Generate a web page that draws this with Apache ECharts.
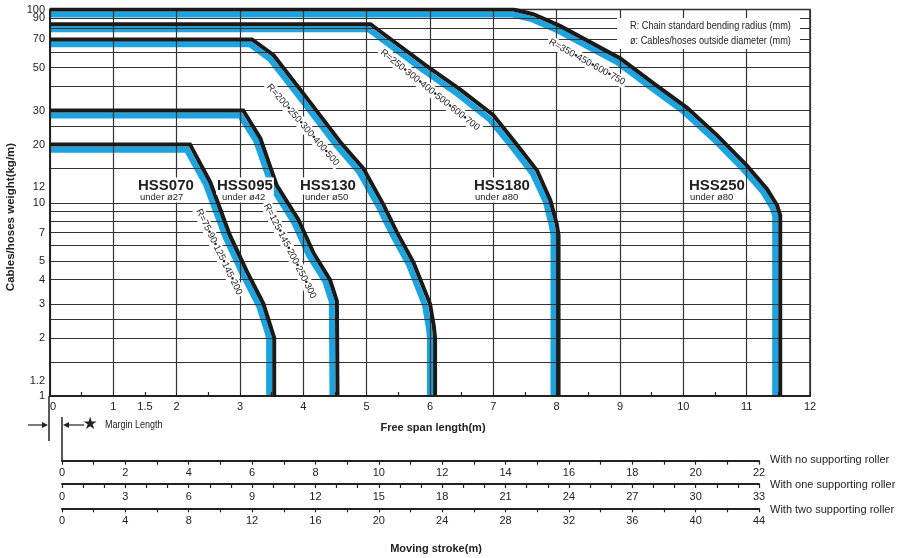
<!DOCTYPE html>
<html>
<head>
<meta charset="utf-8">
<title>HSS free span chart</title>
<script src="https://cdn.jsdelivr.net/npm/echarts@6/dist/echarts.min.js"></script>
<style>
  html, body { margin: 0; padding: 0; background: #fff; }
  #chart { width: 900px; height: 558px; }
</style>
</head>
<body>
<div id="chart"></div>
<script>
  var FONT = "'Liberation Sans', Arial, Helvetica, sans-serif";
  var INK = '#222';
  var BLUE = '#1ba4df';

  // [free span (m), cables/hoses weight (kg/m)] - black outline of each chain
  var hss070 = [[0, 20], [2.21, 20], [2.53, 12.8], [2.84, 6.8], [3.11, 4.4], [3.37, 3.0], [3.50, 2.2], [3.54, 2], [3.54, 1]];
  var hss095 = [[0, 30], [3.05, 30], [3.32, 21.6], [3.58, 12.3], [3.92, 8.2], [4.16, 5.5], [4.42, 4.0], [4.53, 3.1], [4.54, 1]];
  var hss130 = [[0, 70], [3.19, 70], [3.53, 58], [4.05, 35], [4.58, 20.7], [4.95, 15], [5.27, 9.7], [5.48, 7.0], [5.74, 4.9], [6.0, 3.0], [6.06, 2.3], [6.08, 2], [6.08, 1]];
  var hss180 = [[0, 84], [5.06, 84], [5.95, 51], [6.48, 38.5], [7.0, 28.4], [7.32, 21], [7.69, 14.7], [7.90, 10.3], [8.0, 7.8], [8.03, 6.8], [8.03, 1]];
  var hss250 = [[0, 100], [7.32, 100], [7.63, 94.5], [8.06, 82], [9.0, 56], [9.53, 41.5], [10.06, 31], [10.53, 22.4], [11.0, 15.6], [11.32, 11.8], [11.48, 9.7], [11.53, 8.6], [11.53, 1]];

  var hss070Blue = [[0, 18.8], [2.16, 18.8], [2.46, 12.5], [2.77, 6.66], [3.04, 4.29], [3.30, 2.93], [3.43, 2.16], [3.46, 1.98], [3.46, 1]];
  var hss095Blue = [[0, 28.3], [3.0, 28.3], [3.25, 21.1], [3.51, 12.0], [3.85, 7.97], [4.09, 5.35], [4.35, 3.9], [4.45, 3.07], [4.46, 1]];
  var hss130Blue = [[0, 66], [3.16, 66], [3.47, 55.6], [3.99, 33.7], [4.52, 19.9], [4.88, 14.5], [5.20, 9.44], [5.41, 6.81], [5.67, 4.77], [5.92, 2.95], [5.98, 2.28], [6.0, 1.99], [6.0, 1]];
  var hss180Blue = [[0, 79.1], [5.03, 79.1], [5.90, 48.5], [6.43, 36.7], [6.94, 27.1], [7.26, 20.2], [7.62, 14.2], [7.83, 10.1], [7.92, 7.7], [7.95, 6.77], [7.95, 1]];
  var hss250Blue = [[0, 94.2], [7.31, 94.2], [7.60, 89.3], [8.03, 77.6], [8.96, 53.3], [9.48, 39.7], [10.01, 29.6], [10.47, 21.5], [10.94, 15.0], [11.26, 11.4], [11.41, 9.43], [11.45, 8.54], [11.45, 1]];

  var chainNames = ['HSS070', 'HSS095', 'HSS130', 'HSS180', 'HSS250'];
  var chainUnder = ['under ø27', 'under ø42', 'under ø50', 'under ø80', 'under ø80'];
  var bendRadii = ['R=75•90•125•145•200', 'R=125•145•200•250•300', 'R=200•250•300•400•500', 'R=250•300•400•500•600•700', 'R=350•450•600•750'];

  // axis ticks
  var spanLabels = [0, 1, 1.5, 2, 3, 4, 5, 6, 7, 8, 9, 10, 11, 12];
  var weightLabels = [1, 1.2, 2, 3, 4, 5, 7, 10, 12, 20, 30, 50, 70, 90, 100];
  var crowdedLabels = [90];   // too close to 100, drawn on an overlay axis
  var weightGrid = [1, 1.5, 2, 2.5, 3, 4, 5, 6, 7, 8, 9, 10, 15, 20, 25, 30, 40, 50, 60, 70, 80, 90, 100];

  // moving stroke scales
  var strokeMax = [22, 33, 44];
  var strokeStep = [2, 3, 4];
  var strokeMinorSplit = [2, 3, 2];
  var rollerNames = ['With no supporting roller', 'With one supporting roller', 'With two supporting roller'];

  var chart = echarts.init(document.getElementById('chart'));

  var grids = [{ left: 50, right: 90, top: 9.5, height: 386.5, show: true, borderColor: INK, borderWidth: 1.5 }];
  var xAxes = [{
    gridIndex: 0, type: 'value', min: 0, max: 12, interval: 1, z: 2,
    axisLine: { lineStyle: { color: INK, width: 2 } },
    axisTick: { show: true, inside: true, length: 4, lineStyle: { color: INK } },
    minorTick: { show: true, splitNumber: 2, length: 4, lineStyle: { color: INK, width: 1.2 } },
    axisLabel: { customValues: spanLabels, margin: 5, fontSize: 11, color: INK, fontFamily: FONT, alignMinLabel: 'left' },
    splitLine: { show: true, lineStyle: { color: '#333', width: 1.2 } }
  }];
  var weightLabelStyle = { margin: 5, fontSize: 11, color: INK, fontFamily: FONT, showMinLabel: true, showMaxLabel: true };
  var yAxes = [{
    gridIndex: 0, type: 'log', logBase: 10, min: 1, max: 100, z: 2,
    axisLine: { show: true, lineStyle: { color: INK, width: 2 } },
    axisTick: { show: false, customValues: weightGrid },
    axisLabel: Object.assign({ customValues: weightLabels.filter(function (v) { return crowdedLabels.indexOf(v) < 0; }) }, weightLabelStyle),
    splitLine: { show: true, lineStyle: { color: '#333', width: 1.2 } }
  }, {
    gridIndex: 0, type: 'log', logBase: 10, min: 1, max: 100, position: 'left', z: 2,
    axisLine: { show: false }, axisTick: { show: false }, splitLine: { show: false },
    axisLabel: Object.assign({ customValues: crowdedLabels }, weightLabelStyle)
  }];

  var strokeLineY = [460.7, 484, 508.3];
  strokeMax.forEach(function (max, i) {
    grids.push({ left: 62, right: 141, top: strokeLineY[i] - 1, height: 1 });
    xAxes.push({
      gridIndex: i + 1, type: 'value', min: 0, max: max, interval: strokeStep[i], position: 'bottom',
      axisLine: { lineStyle: { color: INK, width: 2 } },
      axisTick: { length: 4, lineStyle: { color: INK, width: 1.2 } },
      minorTick: { show: true, splitNumber: strokeMinorSplit[i], length: 4, lineStyle: { color: INK, width: 1.2 } },
      axisLabel: { margin: 7, fontSize: 11, color: INK, fontFamily: FONT },
      splitLine: { show: false }
    });
    yAxes.push({ gridIndex: i + 1, type: 'value', show: false });
  });

  var series = [];
  [hss070Blue, hss095Blue, hss130Blue, hss180Blue, hss250Blue].forEach(function (d) {
    series.push({ type: 'line', data: d, symbol: 'none', z: 1, silent: true,
      lineStyle: { color: BLUE, width: 6, cap: 'butt', join: 'miter' } });
  });
  [hss070, hss095, hss130, hss180, hss250].forEach(function (d, i) {
    series.push({ type: 'line', name: chainNames[i], data: d, symbol: 'none', z: 3, silent: true,
      lineStyle: { color: '#1a1a1a', width: 4, cap: 'butt', join: 'miter' } });
  });

  function text(x, y, s, font, extra) {
    var el = { type: 'text', x: x, y: y, z: 10, silent: true,
      style: { text: s, font: font, fill: INK, align: 'left', verticalAlign: 'middle' } };
    if (extra) {
      for (var k in extra) {
        if (k === 'style') { for (var j in extra.style) el.style[j] = extra.style[j]; }
        else el[k] = extra[k];
      }
    }
    return el;
  }
  var deg = Math.PI / 180;

  var graphics = [
    text(11, 217, 'Cables/hoses weight(kg/m)', 'bold 11.5px ' + FONT, { rotation: 90 * deg, style: { align: 'center' } }),
    text(433, 428, 'Free span length(m)', 'bold 11px ' + FONT, { style: { align: 'center' } }),
    text(436, 549, 'Moving stroke(m)', 'bold 11px ' + FONT, { style: { align: 'center' } }),
    // legend box
    { type: 'rect', z: 9, silent: true, shape: { x: 617, y: 18, width: 183, height: 31 }, style: { fill: '#fff' } },
    text(630, 26, 'R: Chain standard bending radius (mm)', '10.5px ' + FONT, { scaleX: 0.875 }),
    text(630, 41, 'ø: Cables/hoses outside diameter (mm)', '10.5px ' + FONT, { scaleX: 0.875 }),
    // margin length marker
    { type: 'line', z: 10, silent: true, shape: { x1: 49, y1: 396, x2: 49, y2: 441 }, style: { stroke: INK, lineWidth: 1.5 } },
    { type: 'line', z: 10, silent: true, shape: { x1: 62, y1: 417, x2: 62, y2: 461 }, style: { stroke: INK, lineWidth: 1.5 } },
    { type: 'line', z: 10, silent: true, shape: { x1: 28, y1: 425, x2: 43, y2: 425 }, style: { stroke: INK, lineWidth: 1.2 } },
    { type: 'polygon', z: 10, silent: true, shape: { points: [[48, 425], [42, 422], [42, 428]] }, style: { fill: INK } },
    { type: 'line', z: 10, silent: true, shape: { x1: 68, y1: 425, x2: 84, y2: 425 }, style: { stroke: INK, lineWidth: 1.2 } },
    { type: 'polygon', z: 10, silent: true, shape: { points: [[63, 425], [69, 422], [69, 428]] }, style: { fill: INK } },
    text(90, 425, '★', '17px "DejaVu Sans"', { style: { align: 'center' } }),
    text(105, 425, 'Margin Length', '10px ' + FONT, { scaleX: 0.9 })
  ];

  rollerNames.forEach(function (name, i) {
    graphics.push(text(770, [460, 485, 510][i], name, '11px ' + FONT));
  });

  var nameX = [137, 216, 299, 473, 688];
  var underX = [139, 221, 304, 474, 689];
  chainNames.forEach(function (name, i) {
    graphics.push(text(nameX[i], 186, name, 'bold 15px ' + FONT, { style: { backgroundColor: '#fff', padding: [1, 1] } }));
    graphics.push(text(underX[i], 197.5, chainUnder[i], '9.5px ' + FONT, { style: { backgroundColor: '#fff', padding: [0, 1] } }));
  });

  var radiusPos = [[219, 252], [290, 251], [303, 125], [430, 90], [587, 62]];
  var radiusAngle = [64, 63, 49, 38.7, 29];
  bendRadii.forEach(function (r, i) {
    graphics.push(text(radiusPos[i][0], radiusPos[i][1], r, '9.5px ' + FONT,
      { rotation: -radiusAngle[i] * deg, style: { align: 'center', backgroundColor: '#fff', padding: [1, 2] } }));
  });

  chart.setOption({
    animation: false,
    backgroundColor: '#fff',
    grid: grids,
    xAxis: xAxes,
    yAxis: yAxes,
    series: series,
    graphic: graphics
  });
</script>
</body>
</html>
